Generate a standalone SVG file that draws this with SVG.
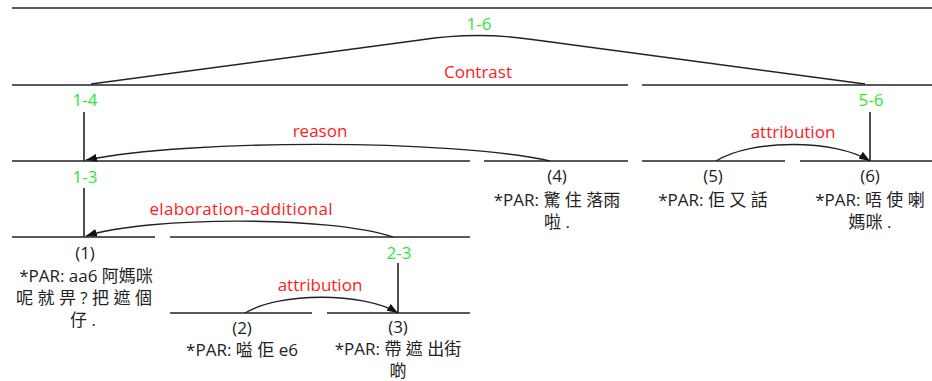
<svg xmlns="http://www.w3.org/2000/svg" width="932" height="381" viewBox="0 0 932 381">
<style>
text{font-family:"Open Sans","Noto Sans CJK TC",sans-serif;font-size:17px;text-anchor:middle}
.sp{fill:#2ee82e}
.rel{fill:#ff1a1a}
.tx{fill:#222}
.bar{stroke:#222;stroke-width:1.6;fill:none}
.arc{stroke:#222;stroke-width:1.4;fill:none}
</style>
<defs>
<marker id="ah" markerUnits="userSpaceOnUse" markerWidth="12" markerHeight="8" refX="11" refY="4" orient="auto">
<path d="M0,0 L11,4 L0,8 z" fill="#111"/>
</marker>
</defs>
<rect width="932" height="381" fill="#fff"/>

<g id="span-1-6">
<line class="bar" x1="12" y1="8" x2="932" y2="8"/>
<text class="sp" x="479" y="30">1-6</text>
</g>
<g id="span-1-4">
<line class="bar" x1="12" y1="85" x2="628" y2="85"/>
<text class="sp" x="85" y="106">1-4</text>
<line class="bar" x1="84" y1="112" x2="84" y2="161"/>
</g>
<g id="span-5-6">
<line class="bar" x1="642" y1="85" x2="932" y2="85"/>
<text class="sp" x="871" y="106">5-6</text>
<line class="bar" x1="870" y1="112" x2="870" y2="161"/>
</g>
<g id="span-1-3">
<line class="bar" x1="12" y1="161" x2="470" y2="161"/>
<text class="sp" x="85" y="183">1-3</text>
<line class="bar" x1="84" y1="188" x2="84" y2="237"/>
</g>
<g id="span-2-3">
<line class="bar" x1="170" y1="237" x2="470" y2="237"/>
<text class="sp" x="399" y="259">2-3</text>
<line class="bar" x1="398" y1="263" x2="398" y2="313"/>
</g>

<g id="node-1">
<line class="bar" x1="12" y1="237" x2="155" y2="237"/>
<text class="tx" x="85" y="259">(1)</text>
<text class="tx" x="86" y="282">*PAR: aa6 阿媽咪</text>
<text class="tx" x="84" y="304">呢 就 畀 ? 把 遮 個</text>
<text class="tx" x="83" y="326">仔 .</text>
</g>
<g id="node-2">
<line class="bar" x1="170" y1="313" x2="312" y2="313"/>
<text class="tx" x="242" y="334">(2)</text>
<text class="tx" x="242" y="356">*PAR: 嗌 佢 e6</text>
</g>
<g id="node-3">
<line class="bar" x1="327" y1="313" x2="470" y2="313"/>
<text class="tx" x="398" y="333">(3)</text>
<text class="tx" x="398" y="355">*PAR: 帶 遮 出街</text>
<text class="tx" x="398" y="377">啲</text>
</g>
<g id="node-4">
<line class="bar" x1="484" y1="161" x2="628" y2="161"/>
<text class="tx" x="557" y="182">(4)</text>
<text class="tx" x="557" y="206">*PAR: 驚 住 落雨</text>
<text class="tx" x="557" y="228">啦 .</text>
</g>
<g id="node-5">
<line class="bar" x1="642" y1="161" x2="785" y2="161"/>
<text class="tx" x="713" y="182">(5)</text>
<text class="tx" x="713" y="206">*PAR: 佢 又 話</text>
</g>
<g id="node-6">
<line class="bar" x1="800" y1="161" x2="932" y2="161"/>
<text class="tx" x="870" y="182">(6)</text>
<text class="tx" x="870" y="206">*PAR: 唔 使 喇</text>
<text class="tx" x="870" y="228">媽咪 .</text>
</g>

<g id="connectors">
<path class="arc" d="M91,84 L420,40 Q478,31 536,40 L865,84"/>
<text class="rel" x="478" y="78">Contrast</text>
<path class="arc" d="M550,161 C450,139 190,139 86,160" marker-end="url(#ah)"/>
<text class="rel" x="320" y="137">reason</text>
<path class="arc" d="M393,237 C330,216 150,216 86,236" marker-end="url(#ah)"/>
<text class="rel" x="241" y="215" textLength="183">elaboration-additional</text>
<path class="arc" d="M716,161 C751,139 835,139 870,161" marker-end="url(#ah)"/>
<text class="rel" x="793" y="138">attribution</text>
<path class="arc" d="M245,313 C280,292 363,292 398,313" marker-end="url(#ah)"/>
<text class="rel" x="320" y="291">attribution</text>
</g>
</svg>
